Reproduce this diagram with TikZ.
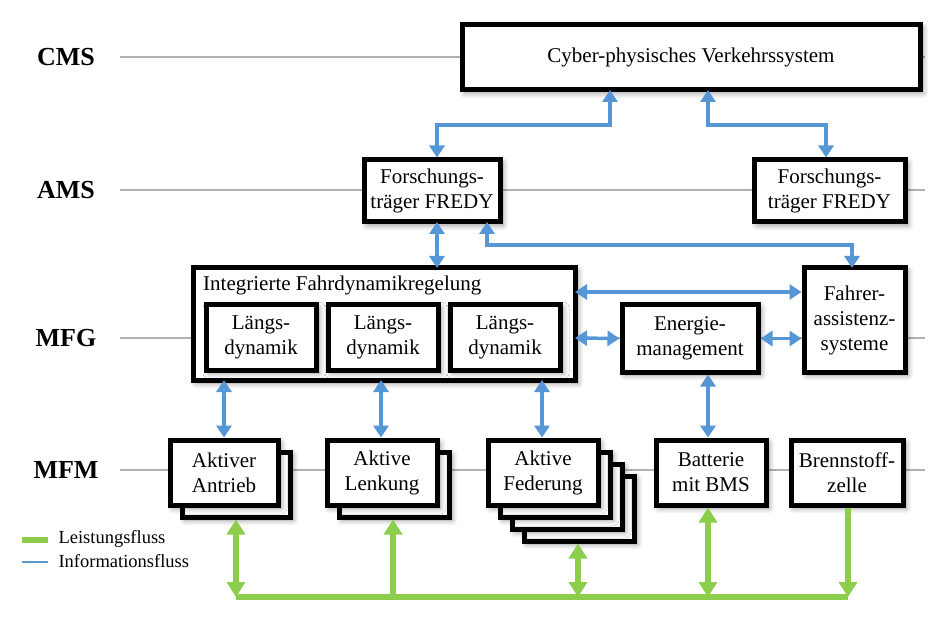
\documentclass[tikz,border=0pt]{standalone}
\usepackage{fontspec}
\setmainfont{Liberation Serif}
\usetikzlibrary{shadows.blur,arrows.meta,calc}
\definecolor{infoblue}{RGB}{85,150,215}
\definecolor{powgreen}{RGB}{140,205,75}
\begin{document}
\begin{tikzpicture}[x=1pt,y=-1pt,
  box/.style={draw,line width=5pt,fill=white,align=center,font=\fontsize{21}{25}\selectfont,inner sep=0pt,blur shadow={shadow blur steps=8,shadow xshift=3pt,shadow yshift=-3pt,shadow blur radius=6pt}},
  sh/.style={draw,line width=5pt,fill=white,inner sep=0pt,blur shadow={shadow blur steps=8,shadow xshift=3pt,shadow yshift=-3pt,shadow blur radius=6pt}},
  lvl/.style={font=\bfseries\fontsize{26}{28}\selectfont},
  lvline/.style={draw=black!30,line width=1.5pt},
  info/.style={draw=infoblue,line width=3.5pt,{Triangle[length=12pt,width=15pt]}-{Triangle[length=12pt,width=15pt]}},
  pow/.style={draw=powgreen,line width=6pt,{Triangle[length=15pt,width=18pt]}-{Triangle[length=15pt,width=18pt]}},
  powend/.style={draw=powgreen,line width=6pt,-{Triangle[length=15pt,width=18pt]}},
  leg/.style={font=\fontsize{18.5}{20}\selectfont,anchor=west}]
\useasboundingbox (0,0) rectangle (945,620);
% level lines
\foreach \y in {57,190,338,470} \draw[lvline] (120,\y) -- (925,\y);
\node[lvl] (cms) at (66,57) {CMS};
\node[lvl] (ams) at (66,190) {AMS};
\node[lvl] (mfg) at (66,338) {MFG};
\node[lvl] (mfm) at (66,470) {MFM};
% boxes
\node[box,minimum width=458pt,minimum height=65pt] (cps) at (691,57.5) {Cyber-physisches Verkehrssystem};
\node[box,minimum width=136pt,minimum height=62pt] (f1) at (432,191) {Forschungs-\\träger FREDY};
\node[box,minimum width=151pt,minimum height=62pt] (f2) at (829.5,191) {Forschungs-\\träger FREDY};
\node[box,minimum width=382pt,minimum height=112pt] (ifr) at (384,324) {};
\node[font=\fontsize{21}{25}\selectfont,anchor=north west,inner sep=0pt] (ifrt) at (203,276) {Integrierte Fahrdynamikregelung};
\node[box,minimum width=110pt,minimum height=65pt] (l1) at (261,337.5) {Längs-\\dynamik};
\node[box,minimum width=110pt,minimum height=65pt] (l2) at (383,337.5) {Längs-\\dynamik};
\node[box,minimum width=110pt,minimum height=65pt] (l3) at (505,337.5) {Längs-\\dynamik};
\node[box,minimum width=136pt,minimum height=67pt] (en) at (690,338.5) {Energie-\\management};
\node[box,minimum width=101pt,minimum height=104pt] (fas) at (854.5,320) {Fahrer-\\assistenz-\\systeme};
% MFM stacked
\node[sh,minimum width=108pt,minimum height=65pt] (a1s) at (236,484.5) {};
\node[box,minimum width=108pt,minimum height=65pt] (a1) at (224,472.5) {Aktiver\\Antrieb};
\node[sh,minimum width=110pt,minimum height=65pt] (a2s) at (394,484.5) {};
\node[box,minimum width=110pt,minimum height=65pt] (a2) at (382,472.5) {Aktive\\Lenkung};
\node[sh,minimum width=110pt,minimum height=65pt] (a3s3) at (579,508.5) {};
\node[sh,minimum width=110pt,minimum height=65pt] (a3s2) at (567,496.5) {};
\node[sh,minimum width=110pt,minimum height=65pt] (a3s1) at (555,484.5) {};
\node[box,minimum width=110pt,minimum height=65pt] (a3) at (543,472.5) {Aktive\\Federung};
\node[box,minimum width=110pt,minimum height=65pt] (bat) at (711,472.5) {Batterie\\mit BMS};
\node[box,minimum width=112pt,minimum height=65pt] (bz) at (847,472.5) {Brennstoff-\\zelle};
% info connectors
\draw[info] ([xshift=5pt]f1.north) |- (610,125) -- (610,90);
\draw[info] (708,90) |- (826,125) -- (f2.north -| 826,0);
\draw[info] (437,222) -- (437,268);
\draw[info] (487,222) |- (852,245) -- (852,268);
\draw[info] (575,292) -- (fas.west |- 0,292);
\draw[info] (575,338) -- (en.west);
\draw[info] (en.east) -- (fas.west |- en.east);
\draw[info] (224,380) -- (a1.north -| 224,0);
\draw[info] (381,380) -- (a2.north -| 381,0);
\draw[info] (542,380) -- (a3.north -| 542,0);
\draw[info] (en.south -| 708,0) -- (bat.north -| 708,0);
% power
\coordinate (busL) at (236,597);
\coordinate (busR) at (848,597);
\draw[draw=powgreen,line width=6pt] (busL) -- (busR);
\draw[pow] (a1s.south) -- (busL);
\draw[powend] (393,597) -- (a2s.south -| 393,0);
\draw[pow] (a3s3.south -| 578,0) -- (578,597);
\draw[pow] (bat.south -| 708,0) -- (708,597);
\draw[powend] (bz.south -| 848,0) -- (busR);
% legend
\draw[draw=powgreen,line width=6pt] (22,540) -- (48,540);
\node[leg] (lg1) at (55,539) {Leistungsfluss};
\draw[draw=infoblue,line width=2pt] (22,562) -- (48,562);
\node[leg] (lg2) at (55,561) {Informationsfluss};
\end{tikzpicture}
\end{document}
